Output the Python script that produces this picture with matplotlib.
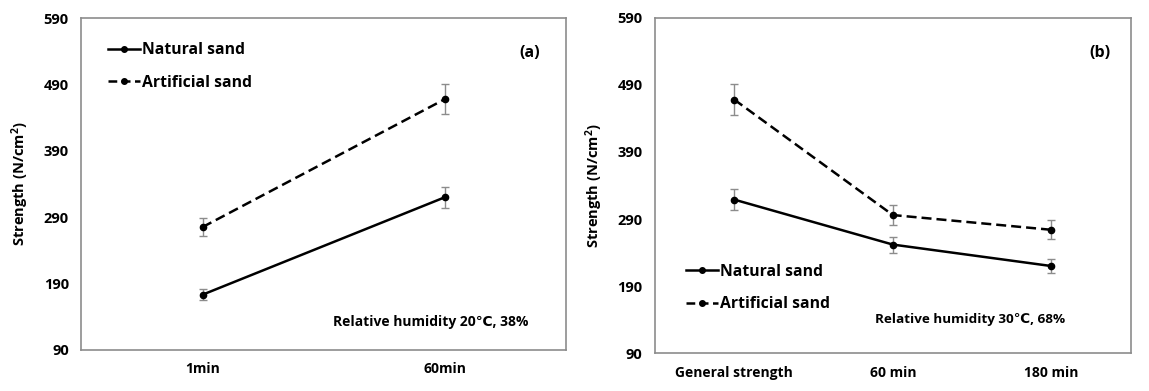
import matplotlib
matplotlib.use("Agg")
import matplotlib.pyplot as plt
from matplotlib.lines import Line2D

plt.rcParams['font.family'] = ['Open Sans', 'DejaVu Sans']
plt.rcParams['font.weight'] = 'bold'
plt.rcParams['mathtext.fontset'] = 'custom'
plt.rcParams['mathtext.bf'] = 'Open Sans:bold'
plt.rcParams['mathtext.rm'] = 'Open Sans:bold'
plt.rcParams['mathtext.default'] = 'bf'

cats_a = ["1min", "60min"]
natural_a = [173, 320]
natural_a_err = [8, 16]
artificial_a = [275, 468]
artificial_a_err = [13, 23]

cats_b = ["General strength", "60 min", "180 min"]
natural_b = [319, 252, 220]
natural_b_err = [16, 12, 11]
artificial_b = [468, 296, 274]
artificial_b_err = [23, 15, 14]

yticks = [90, 190, 290, 390, 490, 590]

fig = plt.figure(figsize=(11.49, 3.91), dpi=100)
ax1 = fig.add_axes([0.0708, 0.1056, 0.4218, 0.8476])
ax2 = fig.add_axes([0.570, 0.0964, 0.4141, 0.8583])

def style(ax, cats):
    ax.set_ylim(90, 590)
    ax.set_yticks(yticks)
    ax.set_xlim(-0.5, len(cats) - 0.5)
    ax.set_xticks(range(len(cats)))
    ax.set_xticklabels(cats, fontsize=10, fontweight='bold')
    for lbl in ax.get_yticklabels():
        lbl.set_fontsize(10.5)
        lbl.set_fontweight('bold')
    ax.tick_params(length=0, pad=9)
    for s in ax.spines.values():
        s.set_color('#8c8c8c')
        s.set_linewidth(1.2)
    ax.set_ylabel("Strength (N/cm$^{2}$)", fontsize=10.5, fontweight='bold', labelpad=9)

def draw(ax, cats, nat, nerr, art, aerr):
    x = list(range(len(cats)))
    ax.errorbar(x, nat, yerr=nerr, color='black', lw=1.8, marker='o', ms=4.5,
                ecolor='#8c8c8c', elinewidth=1, capsize=3, capthick=1)
    ax.errorbar(x, art, yerr=aerr, color='black', lw=1.8, ls=(0, (4, 2)), marker='o', ms=4.5,
                ecolor='#8c8c8c', elinewidth=1, capsize=3, capthick=1)

handles = [Line2D([], [], color='black', lw=1.8, marker='o', ms=4),
           Line2D([], [], color='black', lw=1.8, ls=(0, (3.5, 1.8)), marker='o', ms=4)]
labels = ['Natural sand', 'Artificial sand']

draw(ax1, cats_a, natural_a, natural_a_err, artificial_a, artificial_a_err)
style(ax1, cats_a)
draw(ax2, cats_b, natural_b, natural_b_err, artificial_b, artificial_b_err)
style(ax2, cats_b)

leg_kw = dict(frameon=False, handlelength=2.05, handletextpad=0.13,
              labelspacing=1.05, borderpad=0, borderaxespad=0,
              prop={'weight': 'bold', 'size': 11.3})
ax1.legend(handles, labels, loc='upper left', bbox_to_anchor=(0.055, 0.928), **leg_kw)
ax2.legend(handles, labels, loc='lower left', bbox_to_anchor=(0.065, 0.123), **leg_kw)

ax1.text(0.925, 0.895, "(a)", transform=ax1.transAxes, fontsize=11.5, fontweight='bold',
         ha='center', va='center')
ax2.text(0.935, 0.895, "(b)", transform=ax2.transAxes, fontsize=11.5, fontweight='bold',
         ha='center', va='center')
ax1.text(0.72, 0.085, "Relative humidity 20℃, 38%", transform=ax1.transAxes,
         fontsize=10, fontweight='bold', ha='center', va='center')
ax2.text(0.662, 0.10, "Relative humidity 30℃, 68%", transform=ax2.transAxes,
         fontsize=9.7, fontweight='bold', ha='center', va='center')

fig.savefig("out.png", dpi=100)
